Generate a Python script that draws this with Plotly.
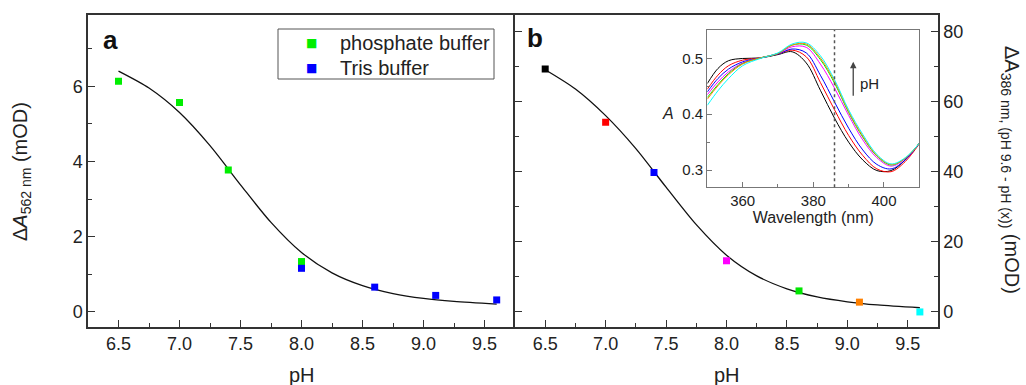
import plotly.graph_objects as go

# ---------------- data ----------------
# panel a
ph_phos = [6.5, 7.0, 7.4, 8.0]
da562_phos = [6.13, 5.57, 3.77, 1.34]
ph_tris = [8.0, 8.6, 9.1, 9.6]
da562_tris = [1.16, 0.66, 0.44, 0.32]
fit_ph = [6.5, 6.75, 7.0, 7.25, 7.5, 7.75, 8.0, 8.25, 8.5, 8.75, 9.0, 9.25, 9.6]
fit_a = [6.40, 5.95, 5.30, 4.42, 3.38, 2.38, 1.58, 1.04, 0.70, 0.49, 0.36, 0.28, 0.21]

# panel b
ph_b = [6.5, 7.0, 7.4, 8.0, 8.6, 9.1, 9.6]
da386 = [69.3, 54.1, 39.8, 14.6, 6.0, 2.8, 0.0]
ph_colors = ["#000000", "#ff0000", "#0000ff", "#ff00ff", "#00e600", "#ff8000", "#00ffff"]
fit_b = [69.1, 63.6, 56.0, 46.6, 35.6, 24.9, 16.2, 10.3, 6.6, 4.3, 2.9, 2.0, 1.2]

# inset spectra
wavelength = [350, 353, 356, 360, 365, 370, 374, 378, 382, 386, 390, 394, 398, 402, 406, 410]
spec_65 = [0.455, 0.482, 0.496, 0.500, 0.501, 0.507, 0.512, 0.492, 0.443, 0.393, 0.350, 0.318, 0.299, 0.299, 0.318, 0.348]
spec_70 = [0.445, 0.470, 0.487, 0.497, 0.501, 0.508, 0.515, 0.503, 0.457, 0.408, 0.362, 0.326, 0.302, 0.297, 0.315, 0.347]
spec_74 = [0.440, 0.464, 0.481, 0.494, 0.501, 0.508, 0.517, 0.510, 0.470, 0.422, 0.375, 0.336, 0.310, 0.302, 0.318, 0.348]
spec_80 = [0.435, 0.458, 0.476, 0.492, 0.501, 0.509, 0.521, 0.520, 0.490, 0.447, 0.398, 0.354, 0.322, 0.307, 0.320, 0.348]
spec_86 = [0.430, 0.453, 0.473, 0.491, 0.501, 0.509, 0.524, 0.524, 0.498, 0.456, 0.403, 0.359, 0.325, 0.309, 0.321, 0.348]
spec_91 = [0.427, 0.451, 0.471, 0.490, 0.501, 0.509, 0.524, 0.526, 0.501, 0.459, 0.405, 0.361, 0.326, 0.310, 0.321, 0.348]
spec_96 = [0.416, 0.442, 0.464, 0.487, 0.500, 0.510, 0.526, 0.528, 0.505, 0.462, 0.408, 0.364, 0.328, 0.311, 0.322, 0.348]
spectra = [spec_65, spec_70, spec_74, spec_80, spec_86, spec_91, spec_96]

legend_labels = ["phosphate buffer", "Tris buffer"]
legend_colors = ["#00ee00", "#0000ff"]

FONT = "Arial, Liberation Sans, sans-serif"
AX = "#333333"
W, H = 1026, 385

fig = go.Figure()

# panel a
fig.add_trace(go.Scatter(x=fit_ph, y=fit_a, mode="lines",
                         line=dict(color="#111", width=1.3, shape="spline", smoothing=0.8),
                         showlegend=False, xaxis="x", yaxis="y"))
fig.add_trace(go.Scatter(x=ph_phos, y=da562_phos, mode="markers", name=legend_labels[0], showlegend=False,
                         marker=dict(symbol="square", size=7, color=legend_colors[0]), xaxis="x", yaxis="y"))
fig.add_trace(go.Scatter(x=ph_tris, y=da562_tris, mode="markers", name=legend_labels[1], showlegend=False,
                         marker=dict(symbol="square", size=7, color=legend_colors[1]), xaxis="x", yaxis="y"))

# panel b
fig.add_trace(go.Scatter(x=fit_ph, y=fit_b, mode="lines",
                         line=dict(color="#111", width=1.3, shape="spline", smoothing=0.8),
                         showlegend=False, xaxis="x2", yaxis="y2"))
fig.add_trace(go.Scatter(x=ph_b, y=da386, mode="markers", showlegend=False,
                         marker=dict(symbol="square", size=7, color=ph_colors), xaxis="x2", yaxis="y2"))

# inset
for s, c in zip(spectra, ph_colors):
    fig.add_trace(go.Scatter(x=wavelength, y=s, mode="lines", line=dict(color=c, width=1, shape="spline"),
                             showlegend=False, xaxis="x3", yaxis="y3"))

main_ax = dict(showline=True, linecolor=AX, linewidth=1.5, ticks="inside", ticklen=7, tickwidth=1.2,
               tickcolor=AX, showgrid=False, zeroline=False, tickfont=dict(size=18, color="#222", family=FONT))

xcommon = dict(main_ax, range=[6.25, 9.75], tick0=6.5, dtick=0.5, tickformat=".1f", mirror=True,
               minor=dict(ticks="inside", ticklen=4, tick0=6.25, dtick=0.25, tickcolor=AX))

YDOM = [0.1506, 0.9618]
fig.update_layout(
    width=W, height=H, margin=dict(l=0, r=0, t=0, b=0),
    paper_bgcolor="white", plot_bgcolor="white",
    font=dict(family=FONT, color="#222"),
    showlegend=False,
    xaxis=dict(xcommon, domain=[88 / W, 515 / W], anchor="y"),
    yaxis=dict(main_ax, domain=YDOM, anchor="x", range=[-0.4, 7.9], dtick=2, tick0=0,
               mirror=False, minor=dict(ticks="inside", ticklen=4, dtick=1, tick0=0, tickcolor=AX)),
    # right-hand ticks of panel a (no line; the border is drawn by panel b)
    yaxis4=dict(overlaying="y", anchor="x", side="right", range=[-0.4, 7.9], dtick=2, tick0=0,
                showline=False, showgrid=False, zeroline=False, showticklabels=False,
                ticks="inside", ticklen=7, tickwidth=1.2, tickcolor=AX,
                minor=dict(ticks="inside", ticklen=4, dtick=1, tick0=0, tickcolor=AX)),
    xaxis2=dict(xcommon, domain=[515 / W, 938 / W], anchor="y2"),
    yaxis2=dict(main_ax, domain=YDOM, anchor="x2", side="right", range=[-4.3, 84.8],
                dtick=20, tick0=0, mirror="ticks",
                minor=dict(ticks="inside", ticklen=4, dtick=10, tick0=0, tickcolor=AX)),
    xaxis3=dict(domain=[0.6894, 0.896], anchor="y3", range=[350, 410], tick0=360, dtick=20,
                showline=True, linecolor="#777", linewidth=1.2, mirror=True, ticks="inside", ticklen=5,
                tickcolor="#777", showgrid=False, zeroline=False,
                tickfont=dict(size=15, color="#222", family=FONT),
                minor=dict(ticks="inside", ticklen=3, dtick=10, tick0=350, tickcolor="#777"),
                title=dict(text="Wavelength (nm)", font=dict(size=16, color="#222"), standoff=2)),
    yaxis3=dict(domain=[0.5135, 0.922], anchor="x3", range=[0.269, 0.551], tick0=0.3, dtick=0.1,
                tickformat=".1f", showline=True, linecolor="#777", linewidth=1.2, mirror=True,
                ticks="inside", ticklen=5, tickcolor="#777", showgrid=False, zeroline=False,
                tickfont=dict(size=15, color="#222", family=FONT),
                minor=dict(ticks="inside", ticklen=3, dtick=0.05, tick0=0.3, tickcolor="#777")),
)

fig.add_shape(type="line", xref="x3", yref="y3 domain", x0=386, x1=386, y0=0, y1=1,
              line=dict(color="#555", width=1.5, dash="dot"))

# legend box (panel a)
fig.add_shape(type="rect", xref="paper", yref="paper", x0=278 / W, x1=494 / W, y0=1 - 79 / H, y1=1 - 29 / H,
              line=dict(color="#555", width=1), fillcolor="white", layer="above")
for i, (lab, col) in enumerate(zip(legend_labels, legend_colors)):
    yy = 1 - (43 + 25 * i) / H
    fig.add_annotation(xref="paper", yref="paper", x=311 / W, y=yy, text="■", showarrow=False,
                       font=dict(size=12, color=col, family="DejaVu Sans"), xanchor="center", yanchor="middle")
    fig.add_annotation(xref="paper", yref="paper", x=338 / W, y=yy, text=lab, showarrow=False,
                       font=dict(size=20, color="#222"), xanchor="left", yanchor="middle")

ann = [
    dict(text="<b>a</b>", x=110 / W, y=1 - 40 / H, font=dict(size=26, color="#111")),
    dict(text="<b>b</b>", x=535 / W, y=1 - 38 / H, font=dict(size=26, color="#111")),
    dict(text="pH", x=301.5 / W, y=1 - 375 / H, font=dict(size=20)),
    dict(text="pH", x=726.5 / W, y=1 - 375 / H, font=dict(size=20)),
    dict(text="Δ<i>A</i><sub>562 nm</sub> (mOD)", x=22 / W, y=1 - 172 / H, textangle=-90,
         font=dict(size=20)),
    dict(text="ΔA<sub>386 nm, (pH 9.6 - pH (x))</sub> (mOD)", x=1010 / W, y=1 - 170 / H,
         textangle=90, font=dict(size=20)),
    dict(text="<i>A</i>", x=668 / W, y=1 - 113 / H, font=dict(size=16)),
]
for a in ann:
    fig.add_annotation(xref="paper", yref="paper", showarrow=False, xanchor="center", yanchor="middle", **a)

fig.add_annotation(xref="x3", yref="y3", x=391.3, y=0.494, ax=391.3, ay=0.418, axref="x3", ayref="y3",
                   showarrow=True, arrowhead=2, arrowsize=1, arrowwidth=1.3, arrowcolor="#444", text=" ")
fig.add_annotation(xref="x3", yref="y3", x=396, y=0.455, text="pH", showarrow=False,
                   font=dict(size=15, color="#222"), xanchor="center", yanchor="middle")

fig.write_html("out.html")
